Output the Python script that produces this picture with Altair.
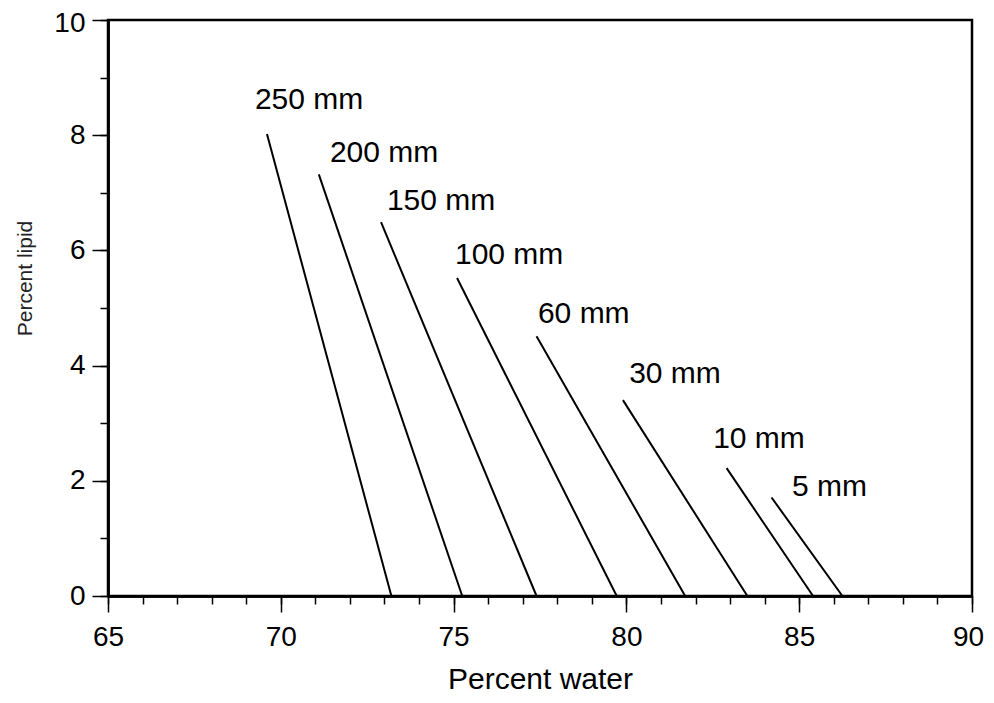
import altair as alt
import pandas as pd

sizes = ["250 mm", "200 mm", "150 mm", "100 mm", "60 mm", "30 mm", "10 mm", "5 mm"]
top_water = [69.6, 71.1, 72.9, 75.1, 77.4, 79.9, 82.9, 84.2]
top_lipid = [8.02, 7.32, 6.49, 5.52, 4.51, 3.40, 2.22, 1.71]
bottom_water = [73.2, 75.25, 77.4, 79.72, 81.7, 83.5, 85.4, 86.25]
bottom_lipid = [0, 0, 0, 0, 0, 0, 0, 0]
label_water = [69.25, 71.42, 73.07, 75.04, 77.44, 80.08, 82.51, 84.79]
label_lipid = [8.45, 7.53, 6.70, 5.76, 4.74, 3.70, 2.57, 1.74]

x_minor = list(range(65, 91))
x_major = [65, 70, 75, 80, 85, 90]
y_minor = list(range(0, 11))
y_major = [0, 2, 4, 6, 8, 10]

rows = []
for i, s in enumerate(sizes):
    rows.append({"size": s, "water": top_water[i], "lipid": top_lipid[i], "order": 0})
    rows.append({"size": s, "water": bottom_water[i], "lipid": bottom_lipid[i], "order": 1})
lines_df = pd.DataFrame(rows)
labels_df = pd.DataFrame({"size": sizes, "water": label_water, "lipid": label_lipid})

FONT = "Liberation Sans"

x_scale = alt.Scale(domain=[65, 90], nice=False, zero=False)
y_scale = alt.Scale(domain=[0, 10], nice=False)

common = dict(grid=False, domainColor="black", domainWidth=2.5, tickColor="black", tickWidth=1.5)

x_axis_minor = alt.Axis(orient="bottom", values=x_minor, labels=False, title=None, tickSize=8, **common)
y_axis_minor = alt.Axis(orient="left", values=y_minor, labels=False, title=None, tickSize=8, **common)

x_axis_major = alt.Axis(
    orient="bottom", title="Percent water", values=x_major, format="d", tickSize=16,
    labelOverlap=False, labelFlush=False,
    labelOffset={"condition": {"test": "datum.value === 90", "value": -4}, "value": 0},
    labelFont=FONT, labelFontSize=28, labelColor="black", labelPadding=11,
    titleFont=FONT, titleFontSize=30, titleFontWeight="normal", titleColor="black",
    titleY=92, titleBaseline="alphabetic", **common,
)
y_axis_major = alt.Axis(
    orient="left", title="Percent lipid", values=y_major, format="d", tickSize=16,
    labelOverlap=False, labelFlush=False,
    labelOffset={"condition": {"test": "datum.value === 10", "value": 3}, "value": 0},
    labelFont=FONT, labelFontSize=28, labelColor="black", labelPadding=7,
    titleFont=FONT, titleFontSize=21, titleFontWeight="normal", titleColor="#222222",
    titleX=-83, titleY=258, titleBaseline="middle", titleAngle=-90, **common,
)

lines = alt.Chart(lines_df).mark_line(color="black", strokeWidth=2).encode(
    x=alt.X("water:Q", scale=x_scale, axis=x_axis_minor),
    y=alt.Y("lipid:Q", scale=y_scale, axis=y_axis_minor),
    detail="size:N",
    order="order:Q",
)

labels = alt.Chart(labels_df).mark_text(
    align="left", baseline="alphabetic", font=FONT, fontSize=30, color="black"
).encode(
    x=alt.X("water:Q", scale=x_scale, axis=x_axis_major),
    y=alt.Y("lipid:Q", scale=y_scale, axis=y_axis_major),
    text="size:N",
)

chart = (lines + labels).resolve_axis(x="independent", y="independent").properties(
    width=864, height=576,
    autosize=alt.AutoSizeParams(type="none"),
    padding={"left": 100, "top": 12, "right": 14, "bottom": 99},
    background="white",
).configure_view(stroke="black", strokeWidth=2.5)

chart.save("out.html", embed_options={"renderer": "svg", "actions": False})
